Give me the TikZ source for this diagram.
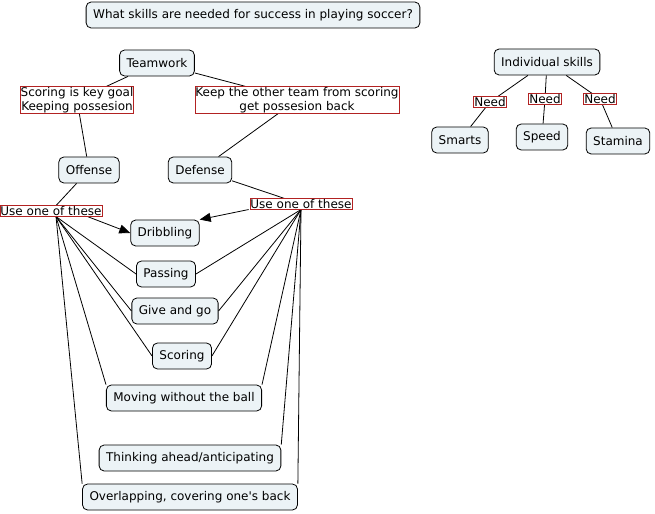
\documentclass[tikz,border=0pt]{standalone}
\usepackage{fontspec}
\setmainfont{DejaVu Sans}
\usetikzlibrary{arrows.meta,backgrounds}
\definecolor{cmapfill}{RGB}{236,243,246}
\definecolor{linkred}{RGB}{178,34,34}
\tikzset{
  concept/.style={draw, rounded corners=5bp, fill=cmapfill, line width=0.8bp,
    minimum height=26bp, inner xsep=7bp, font=\fontsize{12bp}{14bp}\selectfont},
  linkph/.style={draw=linkred, fill=white, line width=0.8bp, inner xsep=0.5bp,
    inner ysep=0.5bp, align=center, font=\fontsize{12bp}{14bp}\selectfont},
  conn/.style={line width=0.8bp},
  arr/.style={conn, -{Triangle[length=11bp,width=9bp]}}
}
\begin{document}
\begin{tikzpicture}[x=1bp,y=-1bp]
\useasboundingbox (0,0) rectangle (655,514);
\node[concept] (title) at (253,15) {What skills are needed for success in playing soccer?};
\node[concept] (teamwork) at (157,63) {Teamwork};
\node[linkph] (lnkoff) at (77,100) {Scoring is key goal\\Keeping possesion};
\node[linkph] (lnkdef) at (297,100) {Keep the other team from scoring\\get possesion back};
\node[concept] (offense) at (89,170) {Offense};
\node[concept] (defense) at (200,170) {Defense};
\node[linkph] (useoff) at (51,211) {Use one of these};
\node[linkph] (usedef) at (301,204) {Use one of these};
\node[concept] (dribbling) at (165,233) {Dribbling};
\node[concept] (passing) at (166,274) {Passing};
\node[concept] (giveandgo) at (175,311) {Give and go};
\node[concept] (scoring) at (182,356) {Scoring};
\node[concept] (moving) at (184,398) {Moving without the ball};
\node[concept] (thinking) at (190,458) {Thinking ahead/anticipating};
\node[concept] (overlap) at (190,497) {Overlapping, covering one\textquotesingle s back};
\node[concept] (indiv) at (547,62) {Individual skills};
\node[linkph] (needa) at (490,102) {Need};
\node[linkph] (needb) at (545,99) {Need};
\node[linkph] (needc) at (600,99) {Need};
\node[concept] (smarts) at (460,140) {Smarts};
\node[concept] (speed) at (542,137) {Speed};
\node[concept] (stamina) at (618,141) {Stamina};
\begin{scope}[on background layer]
\draw[conn] (teamwork) -- (lnkoff) (lnkoff) -- (offense);
\draw[conn] (teamwork) -- (lnkdef) (lnkdef) -- (defense);
\draw[conn] (offense) -- (useoff) (defense) -- (usedef);
\draw[arr] ([xshift=-15bp]useoff.south east) -- (dribbling.west);
\draw[arr] ([xshift=-1bp]usedef.south west) -- (dribbling.north east);
\foreach \t/\a in {passing/west,giveandgo/west,scoring/west,moving/north west,overlap/north west}
  \draw[conn] ([xshift=5bp]useoff.south) -- (\t.\a);
\foreach \t/\a in {passing/east,giveandgo/east,scoring/east,moving/north east,thinking/north east,overlap/north east}
  \draw[conn] (usedef.south) -- (\t.\a);
\draw[conn] (indiv) -- (needa) (needa) -- (smarts);
\draw[conn] (indiv) -- (needb) (needb) -- (speed);
\draw[conn] (indiv) -- (needc) (needc) -- (stamina);
\end{scope}
\end{tikzpicture}
\end{document}
